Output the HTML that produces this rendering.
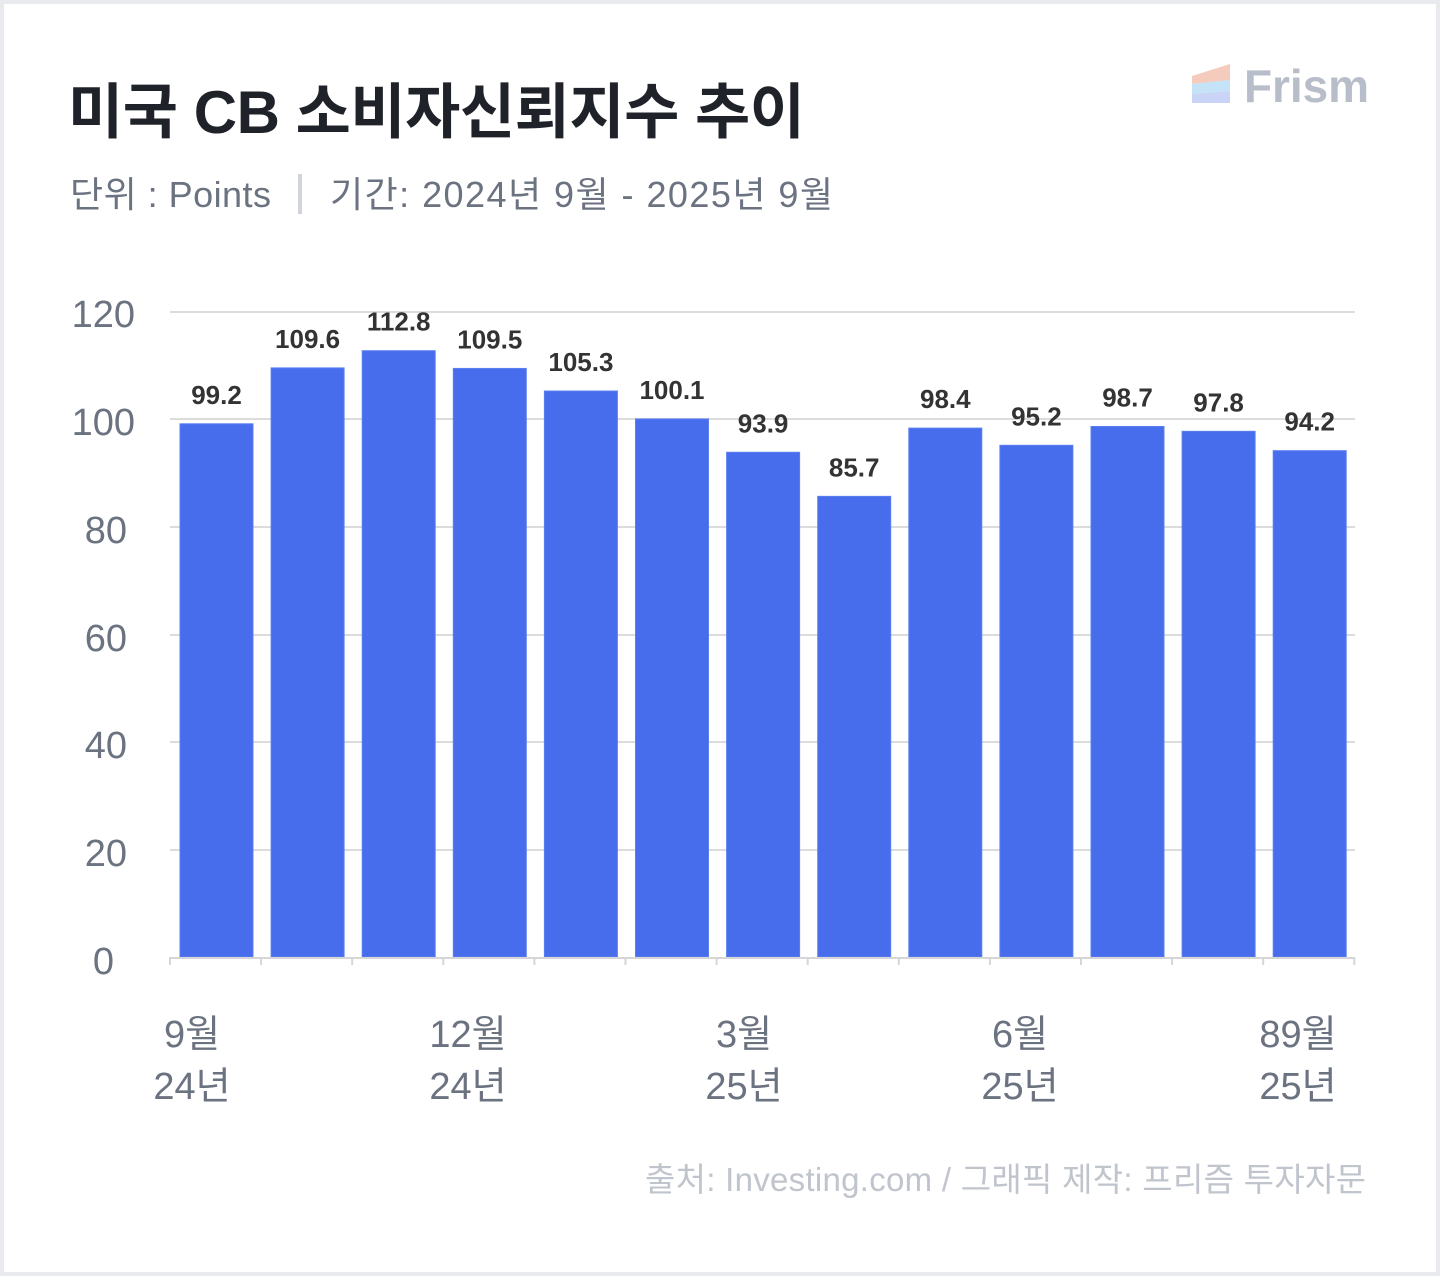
<!DOCTYPE html>
<html><head><meta charset="utf-8"><style>
body{margin:0;background:#fff}
.w{width:1440px;height:1276px;position:relative;overflow:hidden;background:#fff}
.b{position:absolute;left:0;top:0;width:1432px;height:1268px;border:4px solid #e9eaed}
svg{position:absolute;left:0;top:0}
text{font-family:"Liberation Sans","Noto Sans CJK KR",sans-serif}
</style></head><body><div class="w"><div class="b"></div>
<svg width="1440" height="1276" viewBox="0 0 1440 1276">
<text x="68" y="133" font-size="60" font-weight="bold" fill="#1f2329" textLength="737">미국 CB 소비자신뢰지수 추이</text>
<text x="70" y="207" font-size="36" fill="#6b7280" textLength="201">단위 : Points</text>
<rect x="298" y="174" width="4" height="40" fill="#d1d5db"/>
<text x="330" y="207" font-size="36" fill="#6b7280" textLength="503">기간: 2024년 9월 - 2025년 9월</text>
<polygon points="1192,76 1230,64 1230,80 1192,84" fill="#f4cbbd"/>
<polygon points="1192,84 1230,80 1230,91 1192,94" fill="#c4e3f6"/>
<polygon points="1192,94 1230,91 1230,103 1192,103" fill="#c9d4f6"/>
<text x="1244" y="102" font-size="46" font-weight="bold" fill="#b8bec9" textLength="125">Frism</text>
<g stroke="#dcdcdc" stroke-width="2">
<line x1="170" y1="312" x2="1355" y2="312"/><line x1="170" y1="419" x2="1355" y2="419"/><line x1="170" y1="527" x2="1355" y2="527"/><line x1="170" y1="635" x2="1355" y2="635"/><line x1="170" y1="742" x2="1355" y2="742"/><line x1="170" y1="850" x2="1355" y2="850"/>
</g>
<g font-size="38" fill="#6b7280" text-anchor="end">
<text x="135" y="327">120</text><text x="135" y="435">100</text><text x="127" y="543">80</text><text x="127" y="651">60</text><text x="127" y="758">40</text><text x="127" y="866">20</text><text x="114" y="974">0</text>
</g>
<g id="bars" fill="#476ded" stroke="#5b7ff0" stroke-width="1"></g>
<g id="lbl" font-size="26" font-weight="bold" fill="#333" text-anchor="middle"></g>
<g id="ticks" stroke="#d6d6d6" stroke-width="2"><line x1="170" y1="958" x2="1355" y2="958"/></g>
<g font-size="38" fill="#6b7280" text-anchor="middle">
<text x="192" y="1047">9월</text><text x="192" y="1099">24년</text>
<text x="468" y="1047">12월</text><text x="468" y="1099">24년</text>
<text x="744" y="1047">3월</text><text x="744" y="1099">25년</text>
<text x="1020" y="1047">6월</text><text x="1020" y="1099">25년</text>
<text x="1298" y="1047">89월</text><text x="1298" y="1099">25년</text>
</g>
<text x="645" y="1191" font-size="33" fill="#c0c4cc" textLength="721">출처: Investing.com / 그래픽 제작: 프리즘 투자자문</text>
</svg>
<script>
var v=[99.2,109.6,112.8,109.5,105.3,100.1,93.9,85.7,98.4,95.2,98.7,97.8,94.2],ns="http://www.w3.org/2000/svg";
var b=document.getElementById('bars'),l=document.getElementById('lbl'),t=document.getElementById('ticks');
v.forEach(function(d,i){var x=180+i*91.1,y=957-d*5.375;
var r=document.createElementNS(ns,'rect');r.setAttribute('x',x);r.setAttribute('y',y);r.setAttribute('width',73);r.setAttribute('height',957-y);b.appendChild(r);
var s=document.createElementNS(ns,'text');s.setAttribute('x',x+36.5);s.setAttribute('y',y-20);s.textContent=d.toFixed(1);l.appendChild(s);});
for(var i=0;i<14;i++){var x=170+i*91.1;var ln=document.createElementNS(ns,'line');ln.setAttribute('x1',x);ln.setAttribute('x2',x);ln.setAttribute('y1',957);ln.setAttribute('y2',965);t.appendChild(ln);}
</script>
</div></body></html>
